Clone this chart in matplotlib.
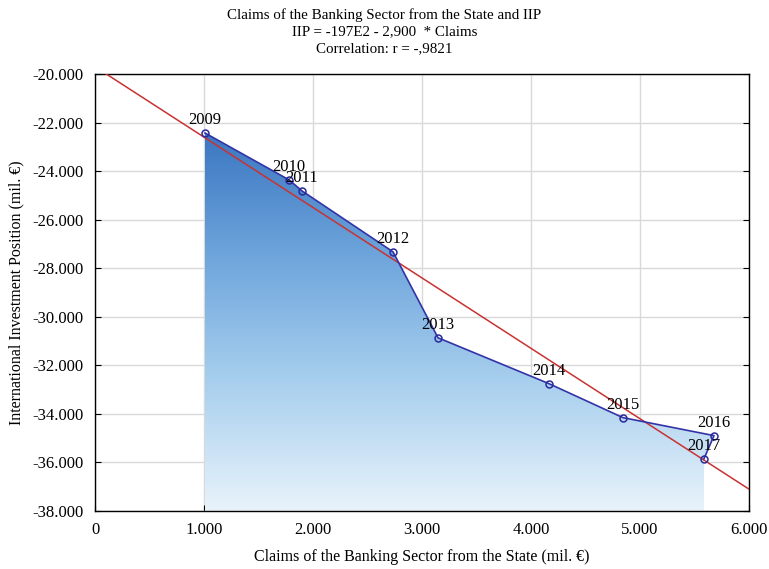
import numpy as np
import matplotlib
matplotlib.use("Agg")
import matplotlib.pyplot as plt
from matplotlib.colors import LinearSegmentedColormap
from matplotlib.patches import Polygon
from matplotlib.ticker import FuncFormatter

years = ["2009", "2010", "2011", "2012", "2013", "2014", "2015", "2016", "2017"]
claims = [1009, 1780, 1899, 2734, 3147, 4165, 4844, 5679, 5587]
iip = [-22430, -24360, -24815, -27325, -30865, -32755, -34155, -34895, -35845]
intercept = -19700
slope = -2.900
title_lines = ["Claims of the Banking Sector from the State and IIP",
               "IIP = -197E2 - 2,900  * Claims",
               "Correlation: r = -,9821"]
xticks = [0, 1000, 2000, 3000, 4000, 5000, 6000]
yticks = list(range(-38000, -19999, 2000))

plt.rcParams['font.family'] = ['Liberation Serif', 'DejaVu Serif']

fig = plt.figure(figsize=(7.69, 5.69), dpi=100)
ax = fig.add_axes([95/769, 1-511/569, (749-95)/769, (511-74)/569])

ax.set_xlim(0, 6000)
ax.set_ylim(-38000, -20000)

# gradient fill under line
ybot = -38000
verts = list(zip(claims, iip)) + [(claims[-1], ybot), (claims[0], ybot)]
poly = Polygon(verts, closed=True, facecolor='none', edgecolor='none')
ax.add_patch(poly)
cmap = LinearSegmentedColormap.from_list('g', ['#e8f3fb', '#a9d0ee', '#6fa6dc', '#3b76c1'])
grad = np.linspace(0, 1, 256).reshape(-1, 1)
im = ax.imshow(grad, cmap=cmap, origin='lower', aspect='auto',
               extent=[min(claims), max(claims), ybot, max(iip)], zorder=1,
               interpolation='bicubic')
im.set_clip_path(poly)

# line with markers
ax.plot(claims, iip, color='#3333a8', lw=1.2, marker='o', ms=5,
        mfc='none', mec='#2a2a9a', mew=1.1, zorder=4)

# regression line
xr = np.array([0, 6000])
ax.plot(xr, intercept + slope * xr, color='#c83232', lw=1.1, zorder=3)

for yr, x, y in zip(years, claims, iip):
    ax.annotate(yr, (x, y), xytext=(0, 9), textcoords='offset points',
                ha='center', va='center', fontsize=12, zorder=5)

ax.set_xticks(xticks)
ax.set_yticks(yticks)
fmt = FuncFormatter(lambda v, p: f"{v:,.0f}".replace(",", "."))
ax.xaxis.set_major_formatter(fmt)
ax.yaxis.set_major_formatter(fmt)
ax.grid(True, color='#d9d9d9', lw=1)
ax.set_axisbelow(True)
ax.tick_params(direction='in', length=4, labelsize=12, top=False, right=True)
ax.tick_params(axis='y', pad=8)
ax.tick_params(axis='x', pad=8)
for s in ax.spines.values():
    s.set_color('black')
    s.set_linewidth(1)

ax.set_xlabel("Claims of the Banking Sector from the State (mil. €)", fontsize=11.5, labelpad=8)
ax.set_ylabel("International Investment Position (mil. €)", fontsize=11.5, labelpad=6)

for i, t in enumerate(title_lines):
    fig.text(0.5, 1 - (15 + 17 * i) / 569, t, ha='center', va='center', fontsize=10.8)

fig.savefig("out.png", dpi=100)
